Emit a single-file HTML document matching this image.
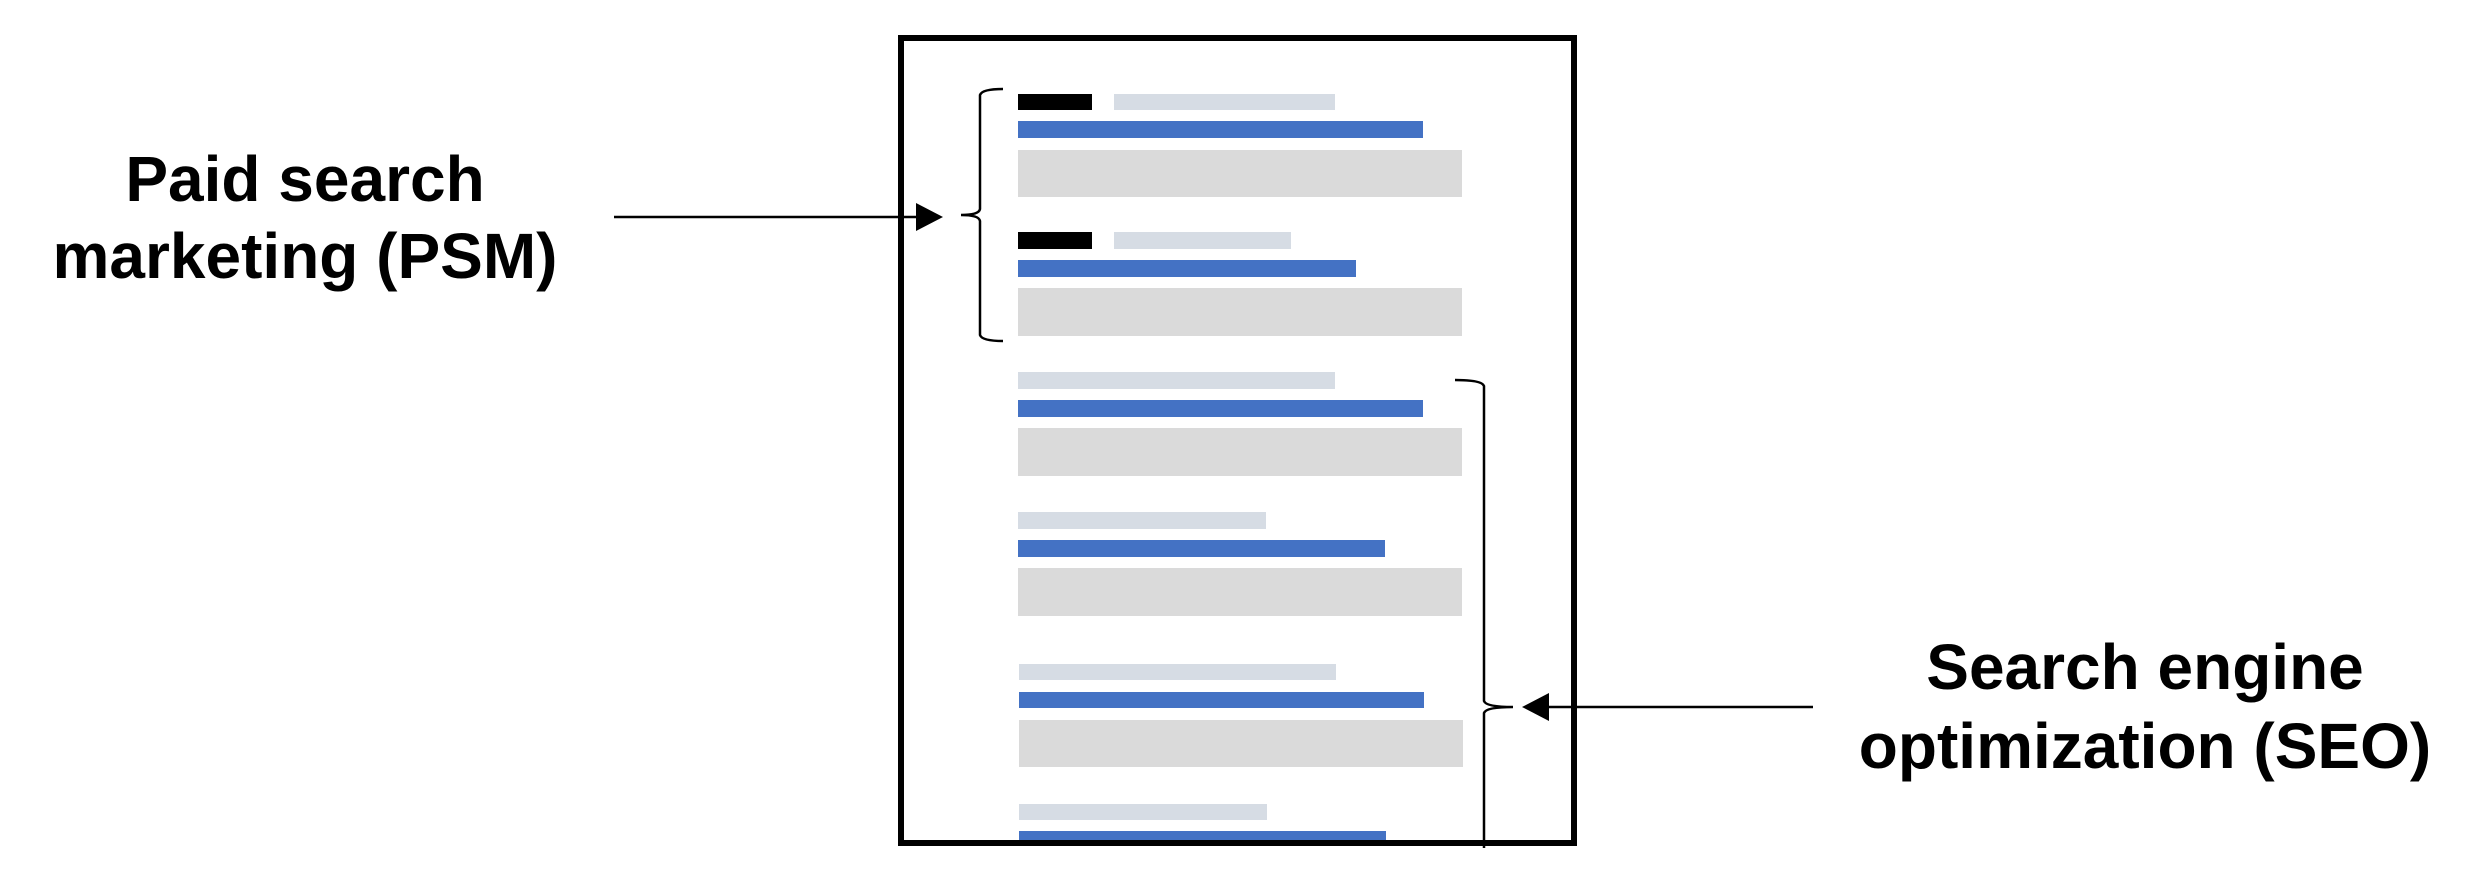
<!DOCTYPE html>
<html><head><meta charset="utf-8"><style>
html,body{margin:0;padding:0;background:#fff;width:2478px;height:882px;overflow:hidden}
</style></head><body>
<svg width="2478" height="882" viewBox="0 0 2478 882" xmlns="http://www.w3.org/2000/svg">
<rect x="0" y="0" width="2478" height="882" fill="#fff"/>
<g font-family="'Liberation Sans', Arial, sans-serif" font-weight="bold" font-size="64" fill="#000" text-anchor="middle">
<text x="305" y="201">Paid search</text>
<text x="305" y="278">marketing (PSM)</text>
<text x="2145" y="689">Search engine</text>
<text x="2145" y="768">optimization (SEO)</text>
</g>
<g>
<rect x="1018" y="94" width="74" height="16" fill="#000"/>
<rect x="1114" y="94" width="221" height="16" fill="#D6DCE4"/>
<rect x="1018" y="121" width="405" height="17" fill="#4472C4"/>
<rect x="1018" y="150" width="444" height="47" fill="#DADADA"/>

<rect x="1018" y="232" width="74" height="17" fill="#000"/>
<rect x="1114" y="232" width="177" height="17" fill="#D6DCE4"/>
<rect x="1018" y="260" width="338" height="17" fill="#4472C4"/>
<rect x="1018" y="288" width="444" height="48" fill="#DADADA"/>

<rect x="1018" y="372" width="317" height="17" fill="#D6DCE4"/>
<rect x="1018" y="400" width="405" height="17" fill="#4472C4"/>
<rect x="1018" y="428" width="444" height="48" fill="#DADADA"/>

<rect x="1018" y="512" width="248" height="17" fill="#D6DCE4"/>
<rect x="1018" y="540" width="367" height="17" fill="#4472C4"/>
<rect x="1018" y="568" width="444" height="48" fill="#DADADA"/>

<rect x="1019" y="664" width="317" height="16" fill="#D6DCE4"/>
<rect x="1019" y="692" width="405" height="16" fill="#4472C4"/>
<rect x="1019" y="720" width="444" height="47" fill="#DADADA"/>

<rect x="1019" y="804" width="248" height="16" fill="#D6DCE4"/>
<rect x="1019" y="831" width="367" height="10" fill="#4472C4"/>
</g>
<rect x="901" y="38" width="673" height="805" fill="none" stroke="#000" stroke-width="6"/>
<path d="M1003 89 Q982 89 980 95 L980 209 Q979 215 961 215 Q979 215 980 221 L980 335 Q982 341 1003 341" fill="none" stroke="#000" stroke-width="2.5"/>
<line x1="614" y1="217" x2="918" y2="217" stroke="#000" stroke-width="2.5"/>
<polygon points="916,203 943,217 916,231" fill="#000"/>
<path d="M1455 380 Q1482 380 1484 386 L1484 701 Q1486 707 1513 707 Q1486 707 1484 713 L1484 848" fill="none" stroke="#000" stroke-width="2.5"/>
<line x1="1547" y1="707" x2="1813" y2="707" stroke="#000" stroke-width="2.5"/>
<polygon points="1522,707 1549,693 1549,721" fill="#000"/>
</svg>
</body></html>
